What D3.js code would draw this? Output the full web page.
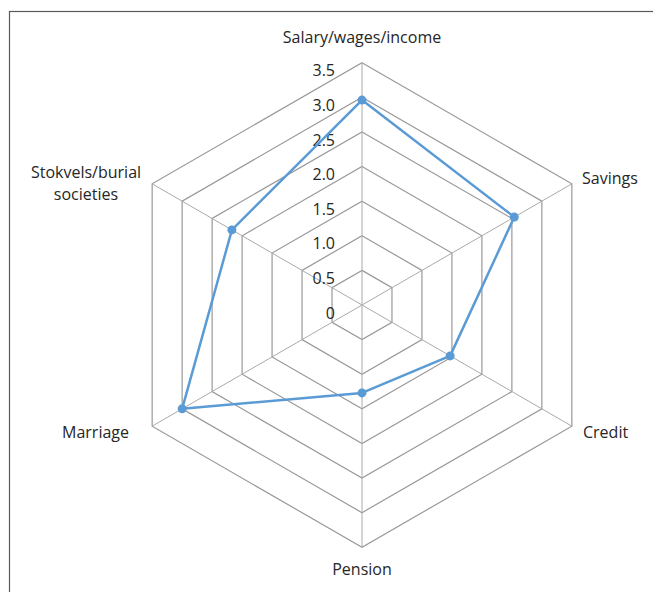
<!DOCTYPE html>
<html>
<head>
<meta charset="utf-8">
<script src="https://cdn.jsdelivr.net/npm/d3@7"></script>
<style>
  body { margin: 0; background: #fff; }
  text { font-family: "Open Sans", "Liberation Sans", sans-serif; fill: #262626; }
</style>
</head>
<body>
<div id="chart"></div>
<script>
// chart data
var categories = ["Salary/wages/income", "Savings", "Credit", "Pension", "Marriage", "Stokvels/burial societies"];
var values = [2.96, 2.54, 1.47, 1.27, 3.0, 2.17];
var tickValues = [0, 0.5, 1.0, 1.5, 2.0, 2.5, 3.0, 3.5];
var tickLabels = ["0", "0.5", "1.0", "1.5", "2.0", "2.5", "3.0", "3.5"];

var svgWidth = 653;
var svgHeight = 592;
var cx = 362;
var cy = 305;

var svg = d3.select("#chart")
    .append("svg")
    .attr("width", svgWidth)
    .attr("height", svgHeight);

// outer frame
svg.append("rect")
    .attr("x", 9.5)
    .attr("y", 11.5)
    .attr("width", 700)
    .attr("height", 700)
    .attr("fill", "none")
    .attr("stroke", "#595959")
    .attr("stroke-width", 1.2);

var chartGroup = svg.append("g")
    .attr("transform", `translate(${cx}, ${cy})`);

var rScale = d3.scaleLinear()
    .domain([0, 3.5])
    .range([0, 242.3]);

var angle = function(i) {
    return -Math.PI / 2 + i * 2 * Math.PI / categories.length;
};

function point(i, v) {
    return [rScale(v) * Math.cos(angle(i)), rScale(v) * Math.sin(angle(i))];
}

// rings
tickValues.slice(1).forEach(function(t) {
    chartGroup.append("polygon")
        .attr("points", categories.map((c, i) => point(i, t).join(",")).join(" "))
        .attr("fill", "none")
        .attr("stroke", "#999999")
        .attr("stroke-width", 1.2);
});

// spokes
chartGroup.selectAll(".spoke")
    .data(categories)
    .enter()
    .append("line")
    .attr("class", "spoke")
    .attr("x1", 0)
    .attr("y1", 0)
    .attr("x2", (d, i) => point(i, 3.5)[0])
    .attr("y2", (d, i) => point(i, 3.5)[1])
    .attr("stroke", "#aaaaaa")
    .attr("stroke-width", 1);

// tick labels
chartGroup.selectAll(".tick")
    .data(tickValues)
    .enter()
    .append("text")
    .attr("class", "tick")
    .attr("x", -27)
    .attr("y", d => -rScale(d) + 8)
    .attr("dy", "0.35em")
    .attr("text-anchor", "end")
    .style("font-size", "16px")
    .text((d, i) => tickLabels[i]);

// series line
var line = d3.line().curve(d3.curveLinearClosed);
chartGroup.append("path")
    .attr("d", line(values.map((v, i) => point(i, v))))
    .attr("fill", "none")
    .attr("stroke", "#5b9bd5")
    .attr("stroke-width", 2.5)
    .attr("stroke-linejoin", "round");

chartGroup.selectAll(".dot")
    .data(values)
    .enter()
    .append("circle")
    .attr("class", "dot")
    .attr("cx", (d, i) => point(i, d)[0])
    .attr("cy", (d, i) => point(i, d)[1])
    .attr("r", 4.5)
    .attr("fill", "#5b9bd5");

// category labels
var labelPos = [
    { x: 0, y: -268, anchor: "middle" },
    { x: 220, y: -127, anchor: "start" },
    { x: 221, y: 127, anchor: "start" },
    { x: 0, y: 264, anchor: "middle" },
    { x: -233, y: 127, anchor: "end" },
    { x: -276, y: -122, anchor: "middle" }
];

categories.forEach(function(c, i) {
    var p = labelPos[i];
    var words = i === 5 ? ["Stokvels/burial", "societies"] : [c];
    var t = chartGroup.append("text")
        .attr("x", p.x)
        .attr("y", p.y - (words.length - 1) * 11)
        .attr("text-anchor", p.anchor)
        .style("font-size", "16px");
    words.forEach(function(w, j) {
        t.append("tspan")
            .attr("x", p.x)
            .attr("dy", j === 0 ? "0.35em" : "22.5px")
            .text(w);
    });
});
</script>
</body>
</html>
